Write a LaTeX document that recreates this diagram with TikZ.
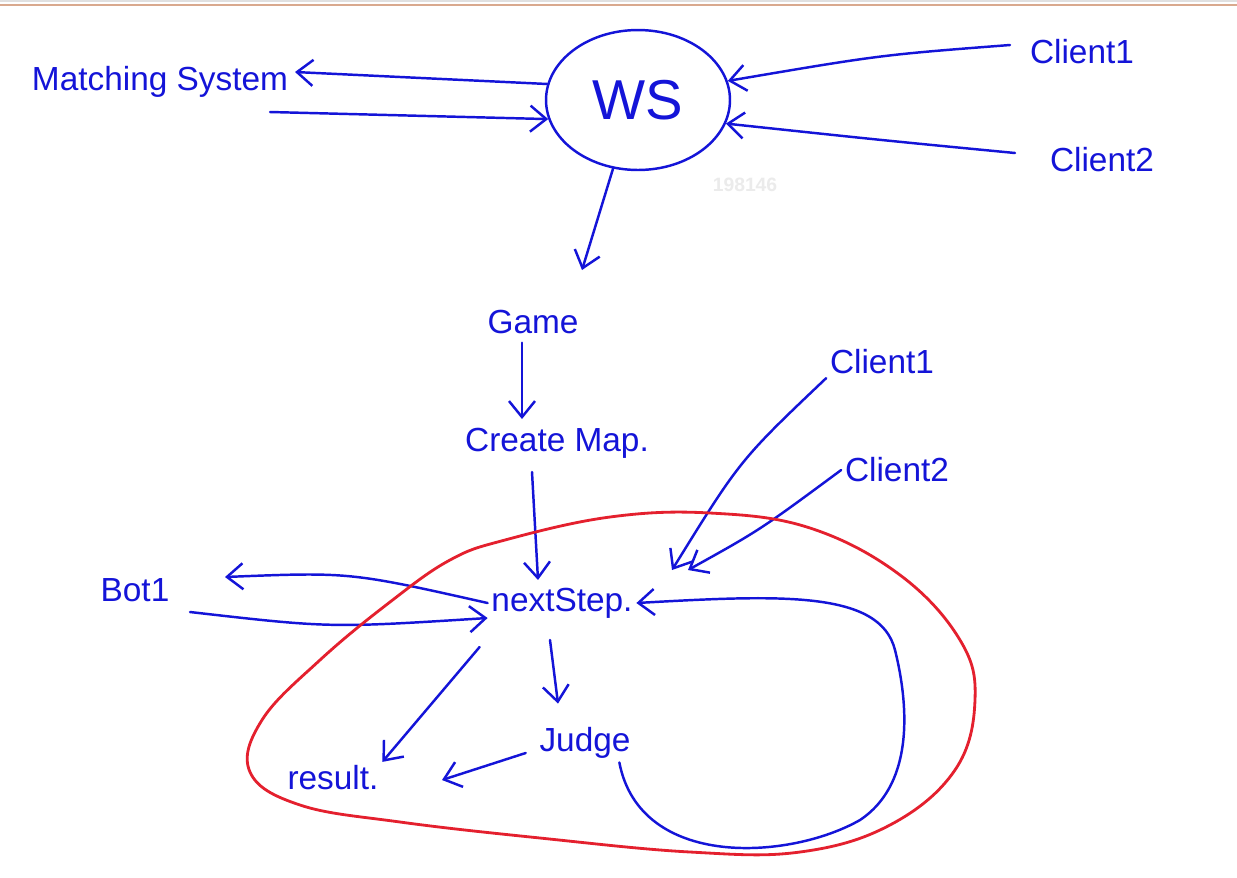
\documentclass[tikz,border=0pt]{standalone}
\usepackage{fontspec}
\setmainfont{Liberation Sans}
\usepackage{tikz}
\usetikzlibrary{arrows.meta,calc,shapes.geometric}
\definecolor{inkblue}{HTML}{1414D8}
\definecolor{inkred}{HTML}{E4202E}
\definecolor{topbar}{HTML}{D9A98E}
\definecolor{wmark}{HTML}{EBEBEB}
\tikzset{
  >={Straight Barb[length=3.2mm,width=5.2mm,line width=1.4pt]},
  ink/.style={draw=inkblue,line width=1.4pt,line cap=round},
  hand/.style={text=inkblue,font=\fontsize{19}{22}\selectfont,inner sep=2pt},
  bigword/.style={text=inkblue,font=\fontsize{32}{36}\selectfont}
}
\begin{document}
\begin{tikzpicture}[x=0.02cm,y=-0.02cm]
  \useasboundingbox[fill=white] (0,0) rectangle (1237,877);
  \draw[draw=black!12,line width=.6pt] (0,1) -- (1237,1);
  \draw[draw=topbar,line width=1.2pt] (0,5) -- (1237,5);
  \node[text=wmark,font=\bfseries\fontsize{11}{13}\selectfont] (mark) at (745,185) {198146};

  % top part: server
  \node[ellipse,ink,bigword,minimum width=3.68cm,minimum height=2.8cm] (ws) at (638,100) {WS};
  \node[hand] (match) at (160,82) {Matching System};
  \node[hand] (clienta) at (1082,52) {Client1};
  \node[hand] (clientb) at (1102,160) {Client2};
  \node[hand] (game) at (533,322) {Game};
  \node[hand] (cmap) at (557,443) {Create Map.};

  \coordinate (matchin) at (295,72);
  \coordinate (matchout) at (270,112);
  \coordinate (clientaout) at (1010,45);
  \coordinate (clientbout) at (1015,153);
  \coordinate (gamein) at (582,270);
  \draw[ink,->] (ws.170) -- (matchin);
  \draw[ink,->] (matchout) -- (ws.192);
  \draw[ink,->] (clientaout) .. controls (880,55) .. (ws.12);
  \draw[ink,->] (clientbout) .. controls (880,140) .. (ws.-15);
  \draw[ink,->] (ws.250) -- (gamein);
  \draw[ink,->] ($(game.south)+(-11,5)$) -- ($(cmap.north -| game.south)+(-11,-5)$);
  \draw[ink,->] ($(cmap.south)+(-25,10)$) -- ($(cmap.south)+(-19,118)$) coordinate (stepin);

  % game loop
  \node[hand] (next) at (562,603) {nextStep.};
  \node[hand] (clientc) at (882,362) {Client1};
  \node[hand] (clientd) at (897,470) {Client2};
  \node[hand] (bot) at (135,590) {Bot1};
  \node[hand] (judge) at (585,743) {Judge};
  \node[hand] (result) at (333,778) {result.};

  \coordinate (botin) at (225,577);
  \coordinate (botout) at (190,612);
  \coordinate (resultin) at (442,780);
  \draw[ink,->] (clientc.south west) .. controls (740,460) .. (672,570);
  \draw[ink,->] (clientd.west) .. controls (760,530) .. (688,570);
  \draw[ink,->] (next.west) .. controls (350,572) .. (botin);
  \draw[ink,->] (botout) .. controls (330,628) .. ($(next.west)+(0,15)$);
  \draw[ink,->] ($(next.south)+(-12,18)$) -- ($(judge.north)+(-27,-20)$);
  \draw[ink,->] ($(next.south west)+(-8,25)$) -- (result.north east);
  \draw[ink,->] ($(judge.west)+(-10,10)$) -- (resultin);
  \draw[ink,->] ($(judge.south east)+(-15,0)$) .. controls (640,870) and (790,860) .. (860,820)
    .. controls (920,780) and (905,690) .. (895,650)
    .. controls (880,590) and (780,595) .. (next.east);

  \draw[draw=inkred,line width=1.6pt] plot[smooth cycle,tension=.65] coordinates {
    (505,540) (610,517) (710,513) (810,528) (900,575) (960,640) (975,700) (955,770)
    (890,825) (800,852) (690,852) (540,838) (400,822) (300,805) (250,772) (262,720)
    (320,660) (390,602) (450,560)};
\end{tikzpicture}
\end{document}
